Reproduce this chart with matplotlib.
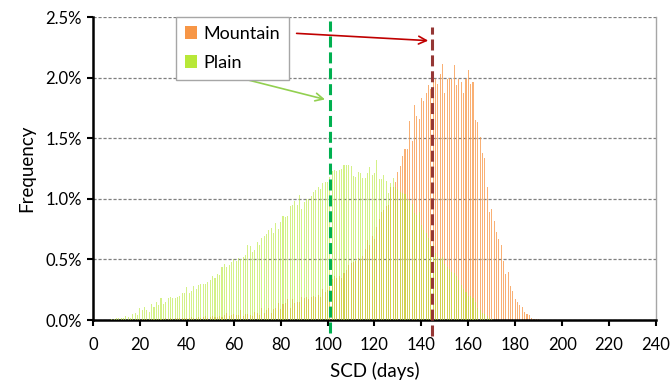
"""
SCD frequency histogram, mountain vs plain stations.
"""
import numpy as np
import matplotlib
matplotlib.use("Agg")
import matplotlib.pyplot as plt
from matplotlib.patches import Patch

plt.rcParams["font.family"] = ["Lato", "DejaVu Sans"]

# Frequency (%) per day of snow cover duration
mountain_first_day = 14
mountain = [
    0.003, 0.004, 0.003, 0.006, 0.004, 0.005, 0.008, 0.006, 0.007, 0.009,  # 14-23
    0.006, 0.010, 0.008, 0.012, 0.009, 0.011, 0.010, 0.013, 0.011, 0.015,  # 24-33
    0.012, 0.014, 0.016, 0.013, 0.018, 0.020, 0.015, 0.018, 0.025, 0.020,  # 34-43
    0.020, 0.025, 0.018, 0.022, 0.030, 0.020, 0.025, 0.030, 0.022, 0.028,  # 44-53
    0.035, 0.025, 0.040, 0.060, 0.030, 0.040, 0.050, 0.040, 0.040, 0.080,  # 54-63
    0.030, 0.050, 0.050, 0.040, 0.030, 0.070, 0.060, 0.040, 0.100, 0.060,  # 64-73
    0.080, 0.100, 0.060, 0.090, 0.095, 0.140, 0.090, 0.130, 0.140, 0.170,  # 74-83
    0.100, 0.170, 0.140, 0.145, 0.150, 0.190, 0.180, 0.190, 0.170, 0.190,  # 84-93
    0.200, 0.190, 0.210, 0.190, 0.260, 0.230, 0.250, 0.270, 0.340, 0.360,  # 94-103
    0.350, 0.360, 0.350, 0.390, 0.410, 0.450, 0.470, 0.480, 0.490, 0.510,  # 104-113
    0.500, 0.530, 0.590, 0.660, 0.620, 0.690, 0.670, 0.770, 0.830, 0.890,  # 114-123
    0.910, 0.940, 0.950, 1.100, 1.100, 1.140, 1.220, 1.270, 1.350, 1.410,  # 124-133
    1.410, 1.640, 1.480, 1.770, 1.680, 1.660, 1.830, 1.810, 1.870, 1.940,  # 134-143
    1.910, 1.990, 1.990, 1.950, 2.030, 2.110, 1.870, 1.990, 2.000, 1.990,  # 144-153
    2.100, 1.940, 1.990, 1.960, 1.870, 1.990, 2.060, 1.950, 1.960, 1.650,  # 154-163
    1.630, 1.510, 1.380, 1.340, 1.100, 0.890, 0.920, 0.820, 0.730, 0.670,  # 164-173
    0.620, 0.490, 0.380, 0.400, 0.280, 0.240, 0.170, 0.150, 0.120, 0.110,  # 174-183
    0.070, 0.050, 0.040, 0.020, 0.010, 0.010, 0.005, 0.003,                # 184-191
]

plain_first_day = 8
plain = [
    0.005, 0.010, 0.014, 0.017, 0.020, 0.020, 0.030, 0.028, 0.020, 0.050,  # 8-17
    0.060, 0.042, 0.097, 0.080, 0.110, 0.083, 0.070, 0.136, 0.110, 0.150,  # 18-27
    0.120, 0.180, 0.130, 0.150, 0.180, 0.190, 0.180, 0.180, 0.190, 0.200,  # 28-37
    0.225, 0.225, 0.275, 0.220, 0.240, 0.280, 0.260, 0.290, 0.300, 0.300,  # 38-47
    0.300, 0.310, 0.330, 0.360, 0.350, 0.380, 0.370, 0.440, 0.460, 0.440,  # 48-57
    0.450, 0.480, 0.500, 0.490, 0.510, 0.500, 0.520, 0.540, 0.620, 0.610,  # 58-67
    0.560, 0.580, 0.640, 0.620, 0.680, 0.690, 0.710, 0.740, 0.760, 0.720,  # 68-77
    0.800, 0.750, 0.810, 0.860, 0.850, 0.860, 0.940, 0.950, 0.980, 0.950,  # 78-87
    1.030, 0.920, 0.970, 1.000, 1.000, 1.020, 1.060, 1.070, 1.100, 1.080,  # 88-97
    1.130, 1.140, 1.140, 1.180, 1.230, 1.240, 1.230, 1.240, 1.250, 1.280,  # 98-107
    1.280, 1.280, 1.270, 1.190, 1.180, 1.220, 1.210, 1.170, 1.170, 1.210,  # 108-117
    1.260, 1.200, 1.210, 1.320, 1.160, 1.160, 1.200, 1.150, 1.050, 1.130,  # 118-127
    1.170, 1.100, 1.080, 1.060, 1.050, 1.040, 1.000, 0.980, 0.960, 0.880,  # 128-137
    0.870, 0.890, 0.780, 0.740, 0.720, 0.680, 0.620, 0.620, 0.550, 0.520,  # 138-147
    0.500, 0.520, 0.460, 0.440, 0.420, 0.400, 0.390, 0.360, 0.330, 0.290,  # 148-157
    0.260, 0.230, 0.200, 0.200, 0.180, 0.150, 0.100, 0.080, 0.060, 0.050,  # 158-167
    0.030, 0.020, 0.010,                                                   # 168-170
]

mean_plain = 101
mean_mountain = 144.5

x_ticks = list(range(0, 241, 20))
y_ticks = [0.0, 0.5, 1.0, 1.5, 2.0, 2.5]

ORANGE = "#F79646"
GREEN = "#B8E838"

fig = plt.figure(figsize=(6.7, 3.85), dpi=100)
ax = fig.add_axes([0.1388, 0.1688, 0.8403, 0.787])

mountain_days = mountain_first_day + np.arange(len(mountain))
plain_days = plain_first_day + np.arange(len(plain))
ax.bar(mountain_days, mountain, width=0.45, color=ORANGE, alpha=0.75,
       linewidth=0, zorder=2)
ax.bar(plain_days, plain, width=0.45, color=GREEN, alpha=0.6,
       linewidth=0, zorder=3)

# mean lines, running a little past the axis like the original
ax.plot([mean_plain, mean_plain], [-0.11, 2.47], color="#00B050", lw=2.2,
        dashes=(3.6, 1.6), clip_on=False, zorder=5)
ax.plot([mean_mountain, mean_mountain], [-0.13, 2.42], color="#953735", lw=2.2,
        dashes=(3.6, 1.6), clip_on=False, zorder=5)

ax.annotate("", xy=(142.9, 2.305), xytext=(86.8, 2.365),
            arrowprops=dict(arrowstyle="->", color="#C00000", lw=1.2,
                            mutation_scale=14, shrinkA=0, shrinkB=0))
ax.annotate("", xy=(98.9, 1.82), xytext=(66.2, 1.98),
            arrowprops=dict(arrowstyle="->", color="#92D050", lw=1.2,
                            mutation_scale=14, shrinkA=0, shrinkB=0))

ax.set_xlim(0, 240)
ax.set_ylim(0, 2.5)
ax.set_xticks(x_ticks)
ax.set_yticks(y_ticks)
ax.set_yticklabels([f"{v:.1f}%" for v in y_ticks])
ax.tick_params(axis="both", direction="out", length=4, width=1.5,
               labelsize=12, colors="black", pad=4)
ax.tick_params(axis="x", pad=8)

ax.yaxis.grid(True, color="#7F7F7F", linestyle=(0, (2.5, 1.5)), lw=0.9)
ax.set_axisbelow(True)

for side in ["left", "bottom"]:
    ax.spines[side].set_linewidth(1.8)
ax.spines["top"].set_visible(False)
ax.spines["right"].set_color("#A6A6A6")
ax.spines["right"].set_linewidth(1.0)

ax.set_xlabel("SCD (days)", fontsize=13.5, labelpad=7)
ax.set_ylabel("Frequency", fontsize=13.5, labelpad=7)

handles = [Patch(facecolor=ORANGE, edgecolor="none"),
           Patch(facecolor=GREEN, edgecolor="none")]
leg = ax.legend(handles, ["Mountain", "Plain"], loc="upper left",
                bbox_to_anchor=(0.147, 1.0), borderaxespad=0,
                fontsize=13, handlelength=0.7, handleheight=0.7,
                handletextpad=0.35, labelspacing=0.7, borderpad=0.5,
                fancybox=False, framealpha=1, edgecolor="#A6A6A6")
leg.get_frame().set_linewidth(1.0)
leg.set_zorder(6)

fig.savefig("out.png", dpi=100)
